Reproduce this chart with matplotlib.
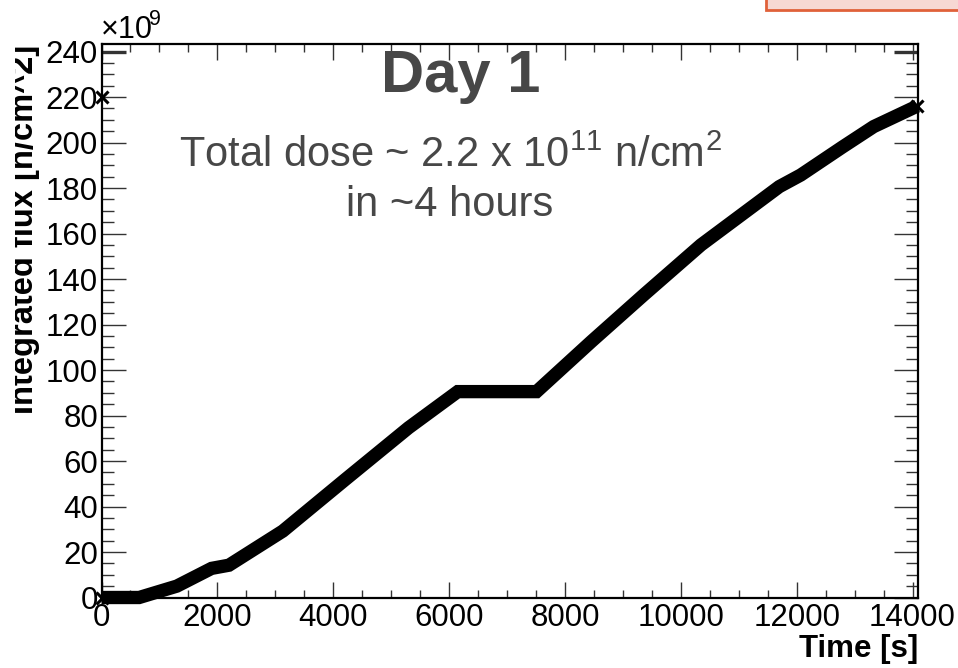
import matplotlib
matplotlib.use("Agg")
import matplotlib.pyplot as plt
from matplotlib.patches import Rectangle
from matplotlib.ticker import MultipleLocator
from matplotlib.transforms import Bbox, TransformedBbox

# Integrated neutron flux during the first day of irradiation
time_s = [0, 650, 1300, 1900, 2200, 3130, 4210, 5300, 6150, 7510,
          8460, 9360, 10350, 11700, 12070, 12790, 13330, 14080]
flux_e9 = [0, 0, 5.0, 12.8, 14.2, 29.2, 51.9, 74.6, 90.5, 90.5,
           112.6, 133.0, 155.0, 180.6, 185.7, 198.0, 207.0, 216.0]
mark_t = [0, 0, 14080]
mark_flux = [0, 220, 216]

x_ticks = [0, 2000, 4000, 6000, 8000, 10000, 12000, 14000]
y_ticks = [0, 20, 40, 60, 80, 100, 120, 140, 160, 180, 200, 220, 240]

W, H = 958, 668
plt.rcParams['font.family'] = ['Liberation Sans', 'DejaVu Sans']
plt.rcParams['mathtext.fontset'] = 'custom'
plt.rcParams['mathtext.rm'] = 'Liberation Sans'
plt.rcParams['mathtext.it'] = 'Liberation Sans'

fig = plt.figure(figsize=(W / 100, H / 100), dpi=100)
fig.patch.set_facecolor('white')


def fx(px):
    return px / W


def fy(py):
    return 1 - py / H


left, right, top, bottom = 101.5, 918.3, 44.0, 597.5
ax = fig.add_axes([fx(left), fy(bottom), fx(right - left), (bottom - top) / H])

ax.plot(time_s, flux_e9, color='black', lw=9.6, solid_capstyle='butt',
        solid_joinstyle='miter', clip_on=False, zorder=3)
ax.plot(mark_t, mark_flux, ls='none', marker='x', color='black', ms=9,
        mew=2.2, clip_on=False, zorder=4)

ax.set_xlim(0, 14100)
ax.set_ylim(0, 243.3)
ax.set_xticks(x_ticks)
ax.set_yticks(y_ticks)
ax.set_xticklabels([str(v) for v in x_ticks])
ax.set_yticklabels([str(v) for v in y_ticks])
ax.xaxis.set_minor_locator(MultipleLocator(500))
ax.yaxis.set_minor_locator(MultipleLocator(5))

for s in ax.spines.values():
    s.set_linewidth(1.6)
    s.set_color('black')

tc = '#333333'
ax.tick_params(axis='x', which='major', direction='in', length=11.8, width=1.0,
               color=tc, top=True, bottom=True, labelsize=22.5, pad=4)
ax.tick_params(axis='x', which='minor', direction='in', length=5.8, width=1.0,
               color=tc, top=True, bottom=True)
ax.tick_params(axis='y', which='major', direction='in', length=17.3, width=1.0,
               color=tc, left=True, right=True, labelsize=22.5, pad=2.5)
ax.tick_params(axis='y', which='minor', direction='in', length=8.8, width=1.0,
               color=tc, left=True, right=True)

# darker top tick on both sides
t240 = ax.yaxis.get_major_ticks()[-1]
for ln in (t240.tick1line, t240.tick2line):
    ln.set_color('black')
    ln.set_markeredgewidth(2.4)

# exponent above the y axis
fig.text(fx(101.0), fy(38), '\u00d710', fontsize=22, ha='left', va='baseline')
fig.text(fx(149.5), fy(25), '9', fontsize=15.5, ha='left', va='baseline')

# axis titles
fig.text(fx(right), fy(657.5), 'Time [s]', fontsize=22.5, fontweight='bold',
         ha='right', va='baseline')
yl = fig.text(fx(33.5), fy(top + 1), 'Integrated flux [n/cm^2]', fontsize=23.5,
              fontweight='bold', rotation=90, rotation_mode='anchor',
              ha='right', va='baseline')
yl.set_clip_box(TransformedBbox(Bbox.from_extents(fx(15.0), 0, 1, 1), fig.transFigure))
yl.set_clip_on(True)

# annotations
gray = '#474747'
fig.text(fx(461), fy(91.7), 'Day 1', fontsize=43, fontweight='bold', color=gray,
         ha='center', va='baseline')
fig.text(fx(450), fy(166.7), r'Total dose ~ 2.2 x 10$^{11}$ n/cm$^{2}$', fontsize=30,
         color=gray, ha='center', va='baseline')
fig.text(fx(450), fy(216.0), 'in ~4 hours', fontsize=30, color=gray,
         ha='center', va='baseline')

# box at the top right edge
fig.patches.append(Rectangle((fx(766), fy(9.5)), fx(200), 0.05, transform=fig.transFigure,
                             facecolor='#f7d8d3', edgecolor='#e0613a', lw=2.0,
                             clip_on=True, zorder=0))

fig.savefig('out.png', dpi=100, facecolor='white')
